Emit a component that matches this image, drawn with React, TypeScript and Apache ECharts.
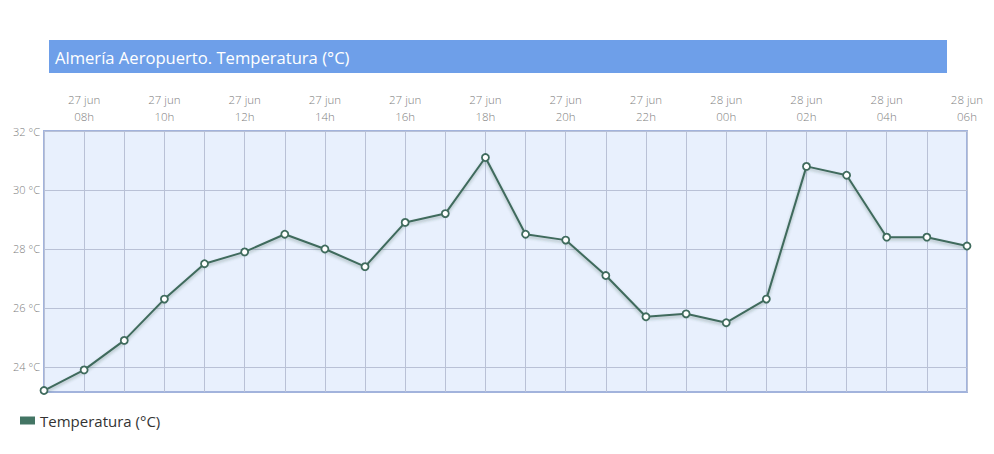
import React, { useEffect, useRef } from "react";
import * as echarts from "echarts";

const hours = ["07h","08h","09h","10h","11h","12h","13h","14h","15h","16h","17h","18h","19h","20h","21h","22h","23h","00h","01h","02h","03h","04h","05h","06h"];
const days = ["27 jun","27 jun","27 jun","27 jun","27 jun","27 jun","27 jun","27 jun","27 jun","27 jun","27 jun","27 jun","27 jun","27 jun","27 jun","27 jun","27 jun","28 jun","28 jun","28 jun","28 jun","28 jun","28 jun","28 jun"];
const temps = [23.2,23.9,24.9,26.3,27.5,27.9,28.5,28.0,27.4,28.9,29.2,31.1,28.5,28.3,27.1,25.7,25.8,25.5,26.3,30.8,30.5,28.4,28.4,28.1];
const yTicks = [24, 26, 28, 30, 32];
const yMin = 23.15;
const yMax = 32;

const FONT = "'Open Sans', 'Noto Sans', sans-serif";
const LINE = "#3f6b5d";

export default function App() {
  const ref = useRef<HTMLDivElement>(null);
  useEffect(() => {
    document.body.style.margin = "0";
    const chart = echarts.init(ref.current!, undefined, { renderer: "svg" });
    const categories = hours.map((h, i) => days[i] + "\n" + h);
    chart.setOption({
      animation: false,
      backgroundColor: "#ffffff",
      textStyle: { fontFamily: FONT },
      graphic: [
        {
          type: "rect",
          shape: { x: 49, y: 40, width: 898, height: 33 },
          style: { fill: "#6e9fe9" },
          silent: true,
        },
        {
          type: "text",
          x: 55,
          y: 57,
          style: {
            text: "Almería Aeropuerto. Temperatura (°C)",
            fill: "#ffffff",
            font: "16.6px " + FONT,
            verticalAlign: "middle",
          },
          silent: true,
        },
      ],
      legend: {
        left: 15,
        top: 408,
        icon: "rect",
        itemWidth: 15,
        itemHeight: 8,
        textStyle: { fontSize: 15, color: "#333333", fontFamily: FONT },
        data: [{ name: "Temperatura (°C)", itemStyle: { color: "#437564", borderWidth: 0 } }],
      },
      grid: {
        left: 44,
        right: 27,
        top: 131,
        bottom: 62,
        show: true,
        backgroundColor: "#e8f0fd",
        borderColor: "#a2b3dc",
        borderWidth: 2,
      },
      xAxis: {
        type: "category",
        position: "top",
        boundaryGap: false,
        data: categories,
        axisLine: { show: false },
        axisTick: { show: false },
        axisLabel: {
          interval: (idx: number) => idx % 2 === 1,
          color: "#808080",
          fontSize: 11.5,
          fontWeight: 300,
          lineHeight: 17,
          margin: 6,
          fontFamily: FONT,
        },
        splitLine: { show: true, interval: 0, lineStyle: { color: "#b9c1d6", width: 1 } },
      },
      yAxis: {
        type: "value",
        min: yMin,
        max: yMax,
        axisLine: { show: false },
        axisTick: { show: false, customValues: yTicks },
        axisLabel: {
          customValues: yTicks,
          formatter: (v: number) => v + " °C",
          color: "#808080",
          fontSize: 11,
          fontWeight: 300,
          margin: 4,
          fontFamily: FONT,
        },
        splitLine: { show: true, lineStyle: { color: "#b9c1d6", width: 1 } },
      },
      series: [
        {
          name: "Temperatura (°C)",
          type: "line",
          data: temps,
          symbol: "circle",
          symbolSize: 7,
          showAllSymbol: true,
          itemStyle: { color: "#ffffff", borderColor: LINE, borderWidth: 1.8 },
          lineStyle: {
            color: LINE,
            width: 2,
            shadowColor: "rgba(40,80,60,0.35)",
            shadowBlur: 3,
            shadowOffsetY: 2,
          },
          z: 3,
        },
      ],
    });
    return () => chart.dispose();
  }, []);
  return <div ref={ref} style={{ position: "absolute", left: 0, top: 0, width: 994, height: 454 }} />;
}
